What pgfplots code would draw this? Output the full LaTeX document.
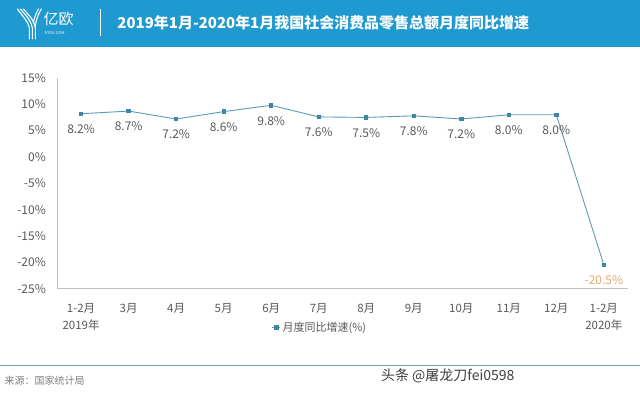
\documentclass[border=0pt]{standalone}
\usepackage{pgfplots}
\pgfplotsset{compat=1.18}
\usepackage{fontspec}
\setmainfont{Noto Sans CJK SC}
\definecolor{hdr}{HTML}{1E9AD0}
\definecolor{linec}{HTML}{5A9BB4}
\definecolor{markc}{HTML}{3F87A3}
\definecolor{txt}{HTML}{595959}
\definecolor{axc}{HTML}{BFBFBF}
\definecolor{org}{HTML}{EAA66A}
\definecolor{footc}{HTML}{6FA3BC}
\begin{document}
\begin{tikzpicture}[x=1pt,y=1pt]
\fill[white] (0,0) rectangle (640,394);
\fill[hdr] (0,347) rectangle (640,394);
% logo
\begin{scope}[white, line width=1.1pt, line cap=round]
\draw (17,385) .. controls (22,378) and (27,374) .. (29,366) -- (29,355);
\draw (20,385) .. controls (25,379) and (30,375) .. (32,366) -- (32,355);
\draw (23,385) .. controls (27,380) and (33,376) .. (35,366) -- (35,355);
\draw (41,385) .. controls (38,380) and (36,375) .. (35,368);
\draw (38,385) .. controls (36,381) and (34,377) .. (33,371);
\end{scope}
\node[white, font=\fontsize{15}{15}\selectfont, anchor=west, inner sep=0] at (43,375) {亿欧};
\node[white, font=\fontsize{4}{4}\selectfont, anchor=west, inner sep=0] at (44,361) {IYIOU.COM};
\draw[white, line width=0.6pt] (100,358) -- (100,385);
\node[anchor=west, white, inner sep=0, font=\bfseries\fontsize{15}{15}\selectfont] at (117,371) {2019年1月-2020年1月我国社会消费品零售总额月度同比增速};
\begin{axis}[
  at={(57pt,105pt)}, anchor=south west,
  scale only axis, width=571pt, height=211pt,
  xmin=-0.5, xmax=11.5, ymin=-25, ymax=15,
  axis x line*=bottom, axis y line*=left,
  axis line style={axc, line width=0.8pt, -},
  major tick length=0pt,
  xtick={0,...,11},
  xticklabels={{1-2月\\2019年},3月,4月,5月,6月,7月,8月,9月,10月,11月,12月,{1-2月\\2020年}},
  xticklabel style={align=center, text=txt, font=\fontsize{11.5}{17}\selectfont, yshift=-11pt, anchor=north},
  ytick={-25,-20,...,15},
  yticklabel={\pgfmathprintnumber{\tick}\%},
  yticklabel style={text=txt, font=\fontsize{12}{12}\selectfont, xshift=-8pt},
  /pgf/number format/assume math mode=true,
  legend style={at={(0.4606,-0.185)}, anchor=center, draw=none, fill=none,
    font=\fontsize{11}{12}\selectfont, text=txt, inner sep=0pt},
  legend image code/.code={\draw[mark repeat=2, mark phase=2] plot coordinates {(0pt,0pt)(4pt,0pt)(8pt,0pt)};},
  clip=false,
]
\addplot[linec, line width=0.9pt, mark=square*, mark size=1.7pt, mark options={markc, fill=markc}]
  coordinates {(0,8.2)(1,8.7)(2,7.2)(3,8.6)(4,9.8)(5,7.6)(6,7.5)(7,7.8)(8,7.2)(9,8.0)(10,8.0)(11,-20.5)};
\addlegendentry{月度同比增速(\%)}
\addplot[draw=none, forget plot,
  nodes near coords={\pgfmathprintnumber[fixed,fixed zerofill,precision=1]{\pgfplotspointmeta}\%},
  nodes near coords style={anchor=center, yshift=-15.5pt, text=txt, font=\fontsize{12}{12}\selectfont}]
  coordinates {(0,8.2)(1,8.7)(2,7.2)(3,8.6)(4,9.8)(5,7.6)(6,7.5)(7,7.8)(8,7.2)(9,8.0)(10,8.0)};
\addplot[draw=none, forget plot,
  nodes near coords={\pgfmathprintnumber[fixed,fixed zerofill,precision=1]{\pgfplotspointmeta}\%},
  nodes near coords style={anchor=center, yshift=-15.5pt, text=org, font=\fontsize{12}{12}\selectfont}]
  coordinates {(11,-20.5)};
\end{axis}
\draw[footc, line width=0.8pt] (0,28) -- (640,28);
\node[anchor=west, inner sep=0, text=gray, font=\fontsize{10}{10}\selectfont] at (4,13) {来源：国家统计局};
\node[anchor=west, inner sep=0, text=black!75, font=\fontsize{14}{14}\selectfont] at (381,18) {头条 @屠龙刀fei0598};
\end{tikzpicture}
\end{document}
